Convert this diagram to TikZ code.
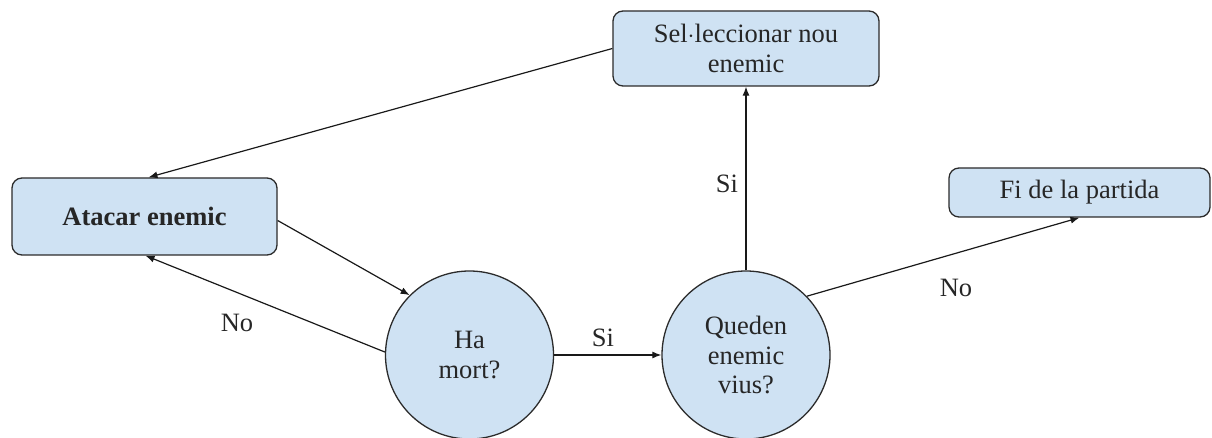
\documentclass[tikz,border=0pt]{standalone}
\usepackage{fontspec}
\setmainfont{Liberation Serif}
\usetikzlibrary{arrows.meta}
\definecolor{boxfill}{HTML}{CFE2F3}
\definecolor{boxline}{HTML}{2B2B2B}
\tikzset{
  base/.style={draw=boxline, line width=1.3pt, fill=boxfill, text=black!85, font=\fontsize{26.5}{29.5}\selectfont, align=center, inner sep=0pt},
  rbox/.style={base, rounded corners=10pt},
  circ/.style={base, circle, minimum size=168pt},
  arr/.style={draw=black!90, line width=1.2pt, -{Latex[length=9pt,width=7pt]}},
  lbl/.style={font=\fontsize{26.5}{29.5}\selectfont, text=black!85, inner sep=0pt}
}
\begin{document}
\begin{tikzpicture}[x=1pt,y=-1pt]
\useasboundingbox (0,0) rectangle (1212,438);
\node[rbox, minimum width=266pt, minimum height=75pt] (sel) at (746,48.5) {Sel$\cdot$leccionar nou\\enemic};
\node[rbox, minimum width=265pt, minimum height=77pt] (atk) at (144.5,216.5) {\textbf{Atacar enemic}};
\node[rbox, minimum width=261pt, minimum height=49pt] (fi) at (1079.5,192.5) {Fi de la partida};
\node[circ] (ha) at (469.5,355) {Ha\\mort?};
\node[circ] (q) at (746,355) {Queden\\enemic\\vius?};

\draw[arr] (sel.west) -- ([xshift=4pt]atk.north);
\draw[arr] ([yshift=-4pt]atk.east) -- (ha.135);
\draw[arr] (ha.178) -- ([xshift=1pt]atk.south);
\draw[arr] (ha.east) -- (q.west);
\draw[arr] (q.north) -- (sel.south);
\draw[arr] (q.44) -- ([xshift=0pt]fi.south);

\node[lbl] (lno1) at (237,323) {No};
\node[lbl] (lsi1) at (603,338) {Si};
\node[lbl] (lsi2) at (727,184) {Si};
\node[lbl] (lno2) at (956,288) {No};
\end{tikzpicture}
\end{document}
